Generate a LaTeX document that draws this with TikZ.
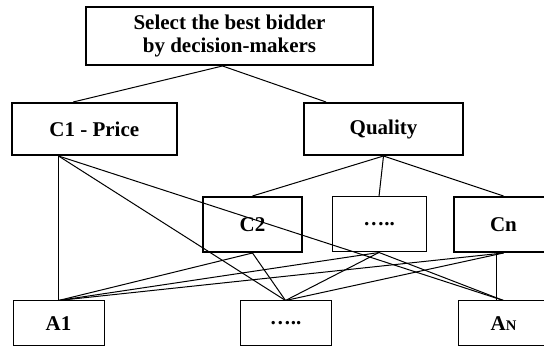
\documentclass[tikz,border=0pt]{standalone}
\usepackage{fontspec}
\setmainfont{Liberation Serif}

\tikzset{every picture/.style={line width=0.75pt}}
\tikzset{
  thickbox/.style={draw, line width=1.5pt, align=center, inner sep=0pt,
    font=\bfseries\fontsize{15.75}{17.6}\selectfont},
  thinbox/.style={draw, line width=0.75pt, align=center, inner sep=0pt,
    font=\bfseries\fontsize{15.75}{17.6}\selectfont},
  link/.style={line width=0.75pt}
}

\begin{document}
\begin{tikzpicture}[x=0.75pt,y=0.75pt,yscale=-1,xscale=1]
		\clip (0,0) rectangle (544,348); %set diagram to 544 x 348

		%Shape: Rectangle [goal] 
		\node[thickbox, minimum width=215.25pt, minimum height=43.5pt] (goal) at (229.5,36) {Select the best bidder\\by decision-makers};
		%Shape: Rectangle [criteria] 
		\node[thickbox, minimum width=124.1pt, minimum height=39pt] (price) at (94.25,129) {C1 - Price};
		\node[thickbox, minimum width=119.25pt, minimum height=39pt] (quality) at (383.5,129) {Quality};
		%Shape: Rectangle [sub criteria] 
		\node[thickbox, minimum width=74.25pt, minimum height=41.25pt] (ctwo) at (252.5,224.5) {C2};
		\node[thinbox, minimum width=70.5pt, minimum height=41.25pt] (cdots) at (379,224.5) {…..};
		\node[thickbox, minimum width=74.25pt, minimum height=41.25pt] (cn) at (503.5,224.5) {Cn};
		%Shape: Rectangle [alternatives] 
		\node[thinbox, minimum width=68.25pt, minimum height=33.75pt] (aone) at (58.5,323.5) {A1};
		\node[thinbox, minimum width=68.25pt, minimum height=33.75pt] (adots) at (285.5,323.5) {…..};
		\node[thinbox, minimum width=68.25pt, minimum height=33.75pt] (an) at (503.5,323.5) {A{\fontsize{11}{11}\selectfont N}};

		%Straight Lines [goal to criteria] 
		\draw[link] ([xshift=-5.25pt]goal.south) -- ([xshift=-15.75pt]price.north);
		\draw[link] ([xshift=-5.25pt]goal.south) -- ([xshift=-43.1pt]quality.north);
		%Straight Lines [quality to sub criteria] 
		\draw[link] (quality.south) -- (ctwo.north);
		\draw[link] (quality.south) -- (cdots.north);
		\draw[link] (quality.south) -- (cn.north);
		%Straight Lines [criteria to alternatives] 
		\draw[link] (price.south -| aone.north) -- (aone.north);
		\draw[link] (price.south -| aone.north) -- (adots.north);
		\draw[link] (price.south -| aone.north) -- (an.north);
		\draw[link] (ctwo.south) -- (aone.north);
		\draw[link] (ctwo.south) -- (adots.north);
		\draw[link] (cdots.south) -- (aone.north);
		\draw[link] (cdots.south) -- (adots.north);
		\draw[link] (cdots.south) -- (an.north);
		\draw[link] (cn.south) -- (aone.north);
		\draw[link] (cn.south) -- (adots.north);
		\draw[link] ([xshift=-5.25pt]cn.south) -- ([xshift=-5.25pt]an.north);

\end{tikzpicture}
\end{document}
